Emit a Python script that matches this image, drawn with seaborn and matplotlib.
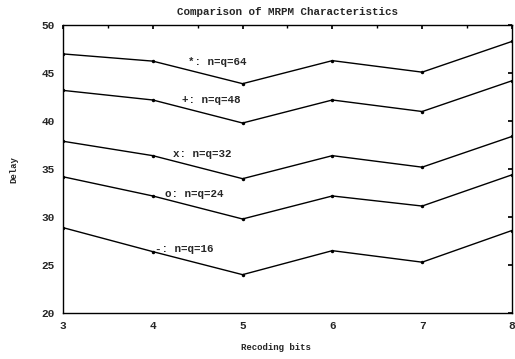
import matplotlib
matplotlib.use("Agg")
import matplotlib.pyplot as plt
import seaborn as sns
import pandas as pd
from matplotlib.ticker import MultipleLocator

bits = [3, 4, 5, 6, 7, 8]
delay_64 = [47.0, 46.25, 43.9, 46.3, 45.1, 48.3]
delay_48 = [43.2, 42.2, 39.8, 42.2, 41.0, 44.2]
delay_32 = [37.9, 36.4, 34.0, 36.4, 35.2, 38.4]
delay_24 = [34.2, 32.2, 29.8, 32.2, 31.15, 34.4]
delay_16 = [28.9, 26.4, 24.0, 26.5, 25.3, 28.6]
series_names = ["n=q=64", "n=q=48", "n=q=32", "n=q=24", "n=q=16"]
labels = ["*: n=q=64", "+: n=q=48", "x: n=q=32", "o: n=q=24", "-: n=q=16"]
label_x = [4.39, 4.33, 4.22, 4.14, 4.03]
label_y = [46.2, 42.2, 36.6, 32.4, 26.7]

sns.set_theme(style="white")
plt.rcParams['font.family'] = ['Liberation Mono', 'DejaVu Sans Mono']

rows = []
for name, vals in zip(series_names, [delay_64, delay_48, delay_32, delay_24, delay_16]):
    for b, v in zip(bits, vals):
        rows.append({"bits": b, "delay": v, "series": name})
df = pd.DataFrame(rows)

fig = plt.figure(figsize=(5.15, 3.59), dpi=100)
ax = fig.add_axes([0.1223, 0.128, 0.8717, 0.802])
sns.lineplot(data=df, x="bits", y="delay", units="series", estimator=None,
             color="black", linewidth=1.0, marker="o", markersize=2.5,
             markeredgewidth=0, ax=ax)

for t, x, y in zip(labels, label_x, label_y):
    ax.text(x, y, t, fontsize=7.8, fontweight="bold", ha="left", va="center")

ax.set_xlim(3, 8)
ax.set_ylim(20, 50)
ax.xaxis.set_major_locator(MultipleLocator(1))
ax.xaxis.set_minor_locator(MultipleLocator(0.5))
ax.yaxis.set_major_locator(MultipleLocator(5))
ax.tick_params(which="both", direction="in", top=True, right=True,
               labelsize=8, pad=6, color="black")
ax.tick_params(which="major", length=3)
ax.tick_params(which="minor", length=2)
for lab in ax.get_xticklabels() + ax.get_yticklabels():
    lab.set_fontweight("bold")
for s in ax.spines.values():
    s.set_color("black")
    s.set_linewidth(1.0)

ax.set_title("Comparison of MRPM Characteristics", fontsize=7.8,
             fontweight="bold", pad=7)
ax.set_xlabel("Recoding bits", fontsize=6.5, fontweight="bold")
ax.set_ylabel("Delay", fontsize=6.5, fontweight="bold")
ax.xaxis.set_label_coords(0.475, -0.105)
ax.yaxis.set_label_coords(-0.1, 0.5)

fig.savefig("out.png", dpi=100, facecolor="white")
